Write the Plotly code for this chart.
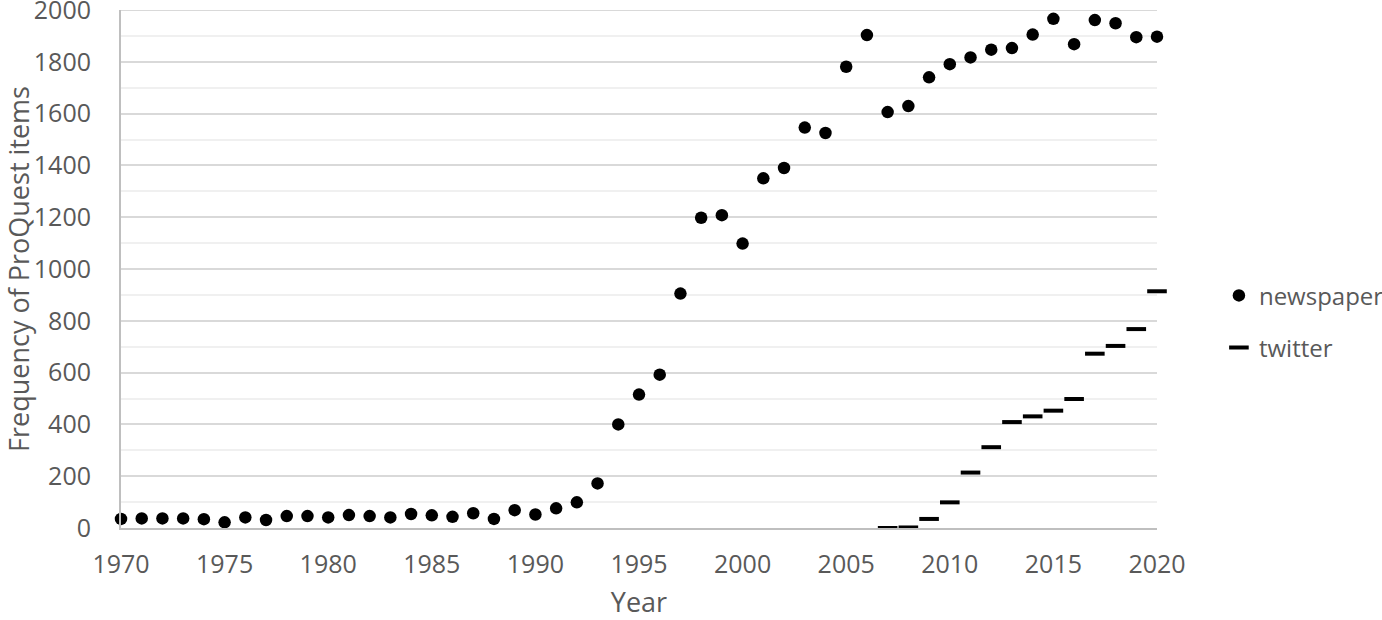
import plotly.graph_objects as go

years = list(range(1970, 2021))
newspaper = [35, 37, 37, 37, 34, 22, 41, 31, 46, 46,
             41, 50, 46, 41, 54, 49, 43, 57, 35, 69,
             52, 76, 99, 172, 400, 515, 592, 905, 1198, 1208,
             1098, 1350, 1390, 1546, 1525, 1781, 1903, 1606, 1629, 1740,
             1791, 1817, 1847, 1853, 1905, 1966, 1868, 1961, 1949, 1895,
             1897]
tw_years = list(range(2007, 2021))
twitter = [0, 2, 35, 99, 214, 312, 409, 431, 453, 498, 673, 703, 768, 914]
y_max = 2000

FONT = "Open Sans"
TXT = "#595959"

fig = go.Figure()
fig.add_trace(go.Scatter(
    x=years, y=newspaper, mode="markers", name="newspaper", legendgroup="a",
    marker=dict(symbol="circle", size=12.5, color="black"),
    cliponaxis=False,
))
fig.add_trace(go.Scatter(
    x=tw_years, y=twitter, mode="markers", name="twitter", legendgroup="b",
    marker=dict(symbol="line-ew", size=14, color="black",
                line=dict(width=4, color="black")),
    cliponaxis=False,
))

fig.add_shape(type="line", xref="paper", yref="y", x0=0, x1=1, y0=y_max, y1=y_max,
              line=dict(color="#d9d9d9", width=2), layer="below")

fig.update_layout(
    width=1382, height=620,
    margin=dict(l=121, r=225, t=10, b=92, autoexpand=False),
    paper_bgcolor="white", plot_bgcolor="white",
    font=dict(family=FONT, size=25, color=TXT),
    showlegend=True,
    legend=dict(xref="container", yref="container", x=0.882, y=0.481,
                xanchor="left", yanchor="middle",
                font=dict(family=FONT, size=24, color=TXT),
                itemwidth=30, tracegroupgap=18, bgcolor="rgba(0,0,0,0)"),
    xaxis=dict(range=[1970, 2020], dtick=5, tick0=1970, automargin=False,
               showgrid=False, zeroline=False,
               showline=True, linecolor="#bfbfbf", linewidth=2,
               ticks="", ticklabelstandoff=13, ticklabeloverflow="allow",
               tickfont=dict(family=FONT, size=25, color=TXT),
               title=dict(text="Year", font=dict(family=FONT, size=27, color=TXT), standoff=26)),
    yaxis=dict(range=[0, y_max], dtick=200, tick0=0, automargin=False,
               showgrid=True, gridcolor="#d9d9d9", gridwidth=2,
               minor=dict(dtick=100, showgrid=True, gridcolor="#f0f0f0", gridwidth=2),
               zeroline=False,
               showline=True, linecolor="#bfbfbf", linewidth=2,
               ticks="", ticklabelstandoff=23, ticklabeloverflow="allow",
               tickfont=dict(family=FONT, size=25, color=TXT),
               title=dict(text="Frequency of ProQuest items", font=dict(family=FONT, size=27, color=TXT), standoff=30)),
)

fig.write_html("out.html", config={"displayModeBar": False},
               post_script="document.body.style.margin='0';")
